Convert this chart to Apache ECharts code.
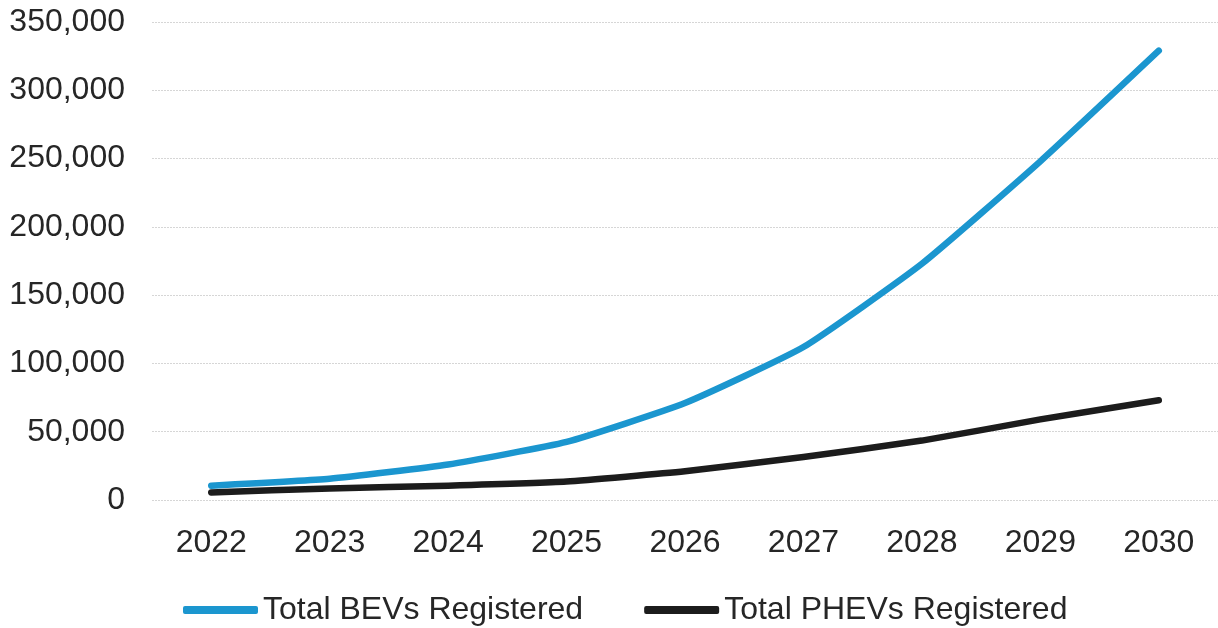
<!DOCTYPE html>
<html>
<head>
<meta charset="utf-8">
<script src="https://cdn.jsdelivr.net/npm/echarts@6/dist/echarts.min.js"></script>
<style>
  html, body { margin: 0; padding: 0; background: #fff; }
  #chart { width: 1218px; height: 628px; }
</style>
</head>
<body>
<div id="chart"></div>
<script>
// data
var years = ['2022', '2023', '2024', '2025', '2026', '2027', '2028', '2029', '2030'];
var bevValues = [10500, 15500, 26000, 42500, 71000, 112000, 173000, 248000, 329000];
var phevValues = [5500, 8500, 10500, 13500, 21000, 31500, 43500, 59000, 73000];
var seriesNames = ['Total BEVs Registered', 'Total PHEVs Registered'];

var chart = echarts.init(document.getElementById('chart'));

var option = {
    animation: false,
    textStyle: { fontFamily: 'Liberation Sans, Arial, sans-serif' },
    grid: { left: 152, right: 0, top: 22, bottom: 128 },
    legend: {
        left: 183,
        top: 594,
        padding: 0,
        itemWidth: 75,
        itemHeight: 8,
        itemGap: 61,
        icon: 'roundRect',
        textStyle: { fontSize: 32, color: '#262626' },
        data: seriesNames
    },
    xAxis: {
        type: 'category',
        data: years,
        boundaryGap: true,
        axisLine: { show: false },
        axisTick: { show: false },
        axisLabel: { fontSize: 32, color: '#262626', margin: 27 }
    },
    yAxis: {
        type: 'value',
        min: 0,
        max: 350000,
        interval: 50000,
        axisLine: { show: false },
        axisTick: { show: false },
        axisLabel: {
            fontSize: 32,
            color: '#262626',
            margin: 27,
            formatter: function (v) { return v.toLocaleString('en-US'); }
        },
        splitLine: { lineStyle: { color: '#d6d6d6', width: 1, type: [2, 1] } }
    },
    series: [
        {
            name: seriesNames[0],
            type: 'line',
            data: bevValues,
            showSymbol: false,
            symbol: 'none',
            smooth: 0.15,
            color: '#1b96cf',
            lineStyle: { width: 6.5, cap: 'round', join: 'round' }
        },
        {
            name: seriesNames[1],
            type: 'line',
            data: phevValues,
            showSymbol: false,
            symbol: 'none',
            smooth: 0.15,
            color: '#1c1c1c',
            lineStyle: { width: 6.5, cap: 'round', join: 'round' }
        }
    ]
};

chart.setOption(option);
</script>
</body>
</html>
